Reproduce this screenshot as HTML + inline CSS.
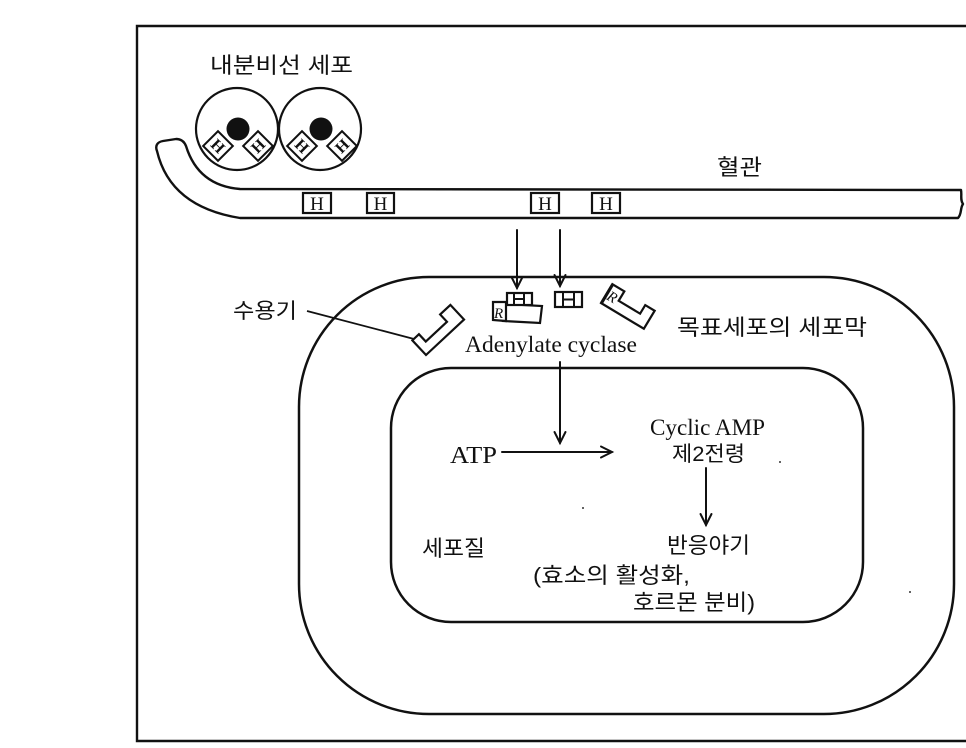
<!DOCTYPE html>
<html>
<head>
<meta charset="utf-8">
<style>
  html,body{margin:0;padding:0;background:#fff;}
  svg{display:block;}
  .k{font-family:"Liberation Sans","Noto Sans CJK KR",sans-serif;fill:#111;}
  .s{font-family:"Liberation Serif",serif;fill:#111;}
</style>
</head>
<body>
<svg width="966" height="748" viewBox="0 0 966 748" xmlns="http://www.w3.org/2000/svg">
  <rect width="966" height="748" fill="#fff"/>
  <!-- frame -->
  <path d="M970 26 L137 26 L137 741 L970 741" fill="none" stroke="#111" stroke-width="2.4"/>

  <!-- title -->
  <text class="k" x="210" y="73" font-size="22" textLength="143" lengthAdjust="spacingAndGlyphs">내분비선 세포</text>

  <!-- blood vessel -->
  <path d="M961 190 L240 189 C215 187 195 175 186 146 C184 141 180 139 176 139 L163 141 C157 142 155 146 157 151 C165 185 190 210 240 218 L958 218 C962 214 960 208 963 204 C960 200 962 195 961 190 Z" fill="#fff" stroke="#111" stroke-width="2.4" stroke-linejoin="round"/>
  <text class="k" x="717" y="175" font-size="22" textLength="45" lengthAdjust="spacingAndGlyphs">혈관</text>

  <!-- endocrine cells -->
  <circle cx="237" cy="129" r="41" fill="#fff" stroke="#111" stroke-width="2.2"/>
  <circle cx="320" cy="129" r="41" fill="#fff" stroke="#111" stroke-width="2.2"/>
  <circle cx="238" cy="129" r="11.5" fill="#111"/>
  <circle cx="321" cy="129" r="11.5" fill="#111"/>

  <g transform="translate(218,146) rotate(45)">
    <rect x="-10.5" y="-10.5" width="21" height="21" fill="#fff" stroke="#111" stroke-width="2"/>
    <text class="s" x="0" y="5.5" font-size="16" text-anchor="middle" font-weight="bold">H</text>
  </g>
  <g transform="translate(258,146) rotate(-45)">
    <rect x="-10.5" y="-10.5" width="21" height="21" fill="#fff" stroke="#111" stroke-width="2"/>
    <text class="s" x="0" y="5.5" font-size="16" text-anchor="middle" font-weight="bold">H</text>
  </g>
  <g transform="translate(302,146) rotate(45)">
    <rect x="-10.5" y="-10.5" width="21" height="21" fill="#fff" stroke="#111" stroke-width="2"/>
    <text class="s" x="0" y="5.5" font-size="16" text-anchor="middle" font-weight="bold">H</text>
  </g>
  <g transform="translate(342,146) rotate(-45)">
    <rect x="-10.5" y="-10.5" width="21" height="21" fill="#fff" stroke="#111" stroke-width="2"/>
    <text class="s" x="0" y="5.5" font-size="16" text-anchor="middle" font-weight="bold">H</text>
  </g>

  <!-- hormones in vessel -->
  <g fill="#fff" stroke="#111" stroke-width="2.2">
    <rect x="303" y="193" width="28" height="20"/>
    <rect x="367" y="193" width="27" height="20"/>
    <rect x="531" y="193" width="28" height="20"/>
    <rect x="592" y="193" width="28" height="20"/>
  </g>
  <g class="s" font-size="19" text-anchor="middle">
    <text x="317" y="210">H</text>
    <text x="380.5" y="210">H</text>
    <text x="545" y="210">H</text>
    <text x="606" y="210">H</text>
  </g>

  <!-- arrows from vessel -->
  <g stroke="#111" stroke-width="2" fill="none" stroke-linecap="round">
    <line x1="517" y1="230" x2="517" y2="288"/>
    <path d="M511.5 277 L517 288 L522.5 277"/>
    <line x1="560" y1="230" x2="560" y2="286"/>
    <path d="M554.5 275 L560 286 L565.5 275"/>
  </g>

  <!-- target cell -->
  <rect x="299" y="277" width="655" height="437" rx="130" ry="130" fill="none" stroke="#111" stroke-width="2.5"/>
  <rect x="391" y="368" width="472" height="254" rx="60" ry="60" fill="none" stroke="#111" stroke-width="2.5"/>

  <!-- receptor label -->
  <text class="k" x="233" y="318" font-size="21" textLength="64" lengthAdjust="spacingAndGlyphs">수용기</text>
  <line x1="307" y1="311" x2="414" y2="339" stroke="#111" stroke-width="1.8"/>

  <!-- left receptor -->
  <g transform="translate(426,355) rotate(-43)">
    <polygon points="0,0 52,0 52,-20 38,-20 38,-10 9,-10 9,-20 0,-20" fill="#fff" stroke="#111" stroke-width="2.2" stroke-linejoin="miter"/>
  </g>

  <!-- center receptor complex -->
  <polygon points="505,304 542,306 540,323 503,321" fill="#fff" stroke="#111" stroke-width="2.2"/>
  <rect x="507" y="293" width="25" height="12" fill="#fff" stroke="#111" stroke-width="2.2"/>
  <line x1="514" y1="293" x2="514" y2="305" stroke="#111" stroke-width="2"/>
  <line x1="524" y1="293" x2="524" y2="305" stroke="#111" stroke-width="2"/>
  <line x1="514" y1="299" x2="524" y2="299" stroke="#111" stroke-width="2"/>
  <polygon points="493,302 506,302 506,321 493,320" fill="#fff" stroke="#111" stroke-width="2.2"/>
  <text class="s" x="494" y="318" font-size="15" font-style="italic">R</text>

  <!-- free H box -->
  <rect x="555" y="292" width="27" height="15" fill="#fff" stroke="#111" stroke-width="2.2"/>
  <line x1="563" y1="292" x2="563" y2="307" stroke="#111" stroke-width="2"/>
  <line x1="574" y1="292" x2="574" y2="307" stroke="#111" stroke-width="2"/>
  <line x1="563" y1="299.5" x2="574" y2="299.5" stroke="#111" stroke-width="2"/>

  <!-- right receptor -->
  <g transform="translate(601,303) rotate(31)">
    <polygon points="0,0 50,0 50,-21 39,-21 39,-11 14,-11 14,-22 0,-22" fill="#fff" stroke="#111" stroke-width="2.2"/>
    <line x1="0.5" y1="-1" x2="0.5" y2="-21" stroke="#111" stroke-width="3"/>
    <text class="s" x="2" y="-6" font-size="15" font-style="italic">R</text>
  </g>

  <text class="k" x="677" y="335" font-size="22" textLength="190" lengthAdjust="spacingAndGlyphs">목표세포의 세포막</text>
  <text class="s" x="465" y="352" font-size="23" textLength="172" lengthAdjust="spacingAndGlyphs">Adenylate cyclase</text>

  <!-- internal arrows -->
  <g stroke="#111" stroke-width="2" fill="none" stroke-linecap="round">
    <line x1="560" y1="362" x2="560" y2="443"/>
    <path d="M554.5 432 L560 443 L565.5 432"/>
    <line x1="502" y1="452" x2="612" y2="452"/>
    <path d="M601 446.5 L612 452 L601 457.5"/>
    <line x1="706" y1="468" x2="706" y2="525"/>
    <path d="M700.5 514 L706 525 L711.5 514"/>
  </g>

  <text class="s" x="450" y="463" font-size="24" textLength="47" lengthAdjust="spacingAndGlyphs">ATP</text>
  <text class="s" x="650" y="435" font-size="23" textLength="115" lengthAdjust="spacingAndGlyphs">Cyclic AMP</text>
  <text class="k" x="672" y="461" font-size="21" textLength="73" lengthAdjust="spacingAndGlyphs">제2전령</text>
  <text class="k" x="667" y="553" font-size="22" textLength="83" lengthAdjust="spacingAndGlyphs">반응야기</text>
  <text class="k" x="422" y="556" font-size="22" textLength="63" lengthAdjust="spacingAndGlyphs">세포질</text>
  <text class="k" x="533" y="583" font-size="22" textLength="157" lengthAdjust="spacingAndGlyphs">(효소의 활성화,</text>
  <text class="k" x="633" y="610" font-size="22" textLength="122" lengthAdjust="spacingAndGlyphs">호르몬 분비)</text>

  <!-- specks -->
  <g fill="#333">
    <circle cx="583" cy="508" r="1"/>
    <circle cx="780" cy="462" r="1"/>
    <circle cx="910" cy="592" r="1"/>
  </g>
</svg>
</body>
</html>
